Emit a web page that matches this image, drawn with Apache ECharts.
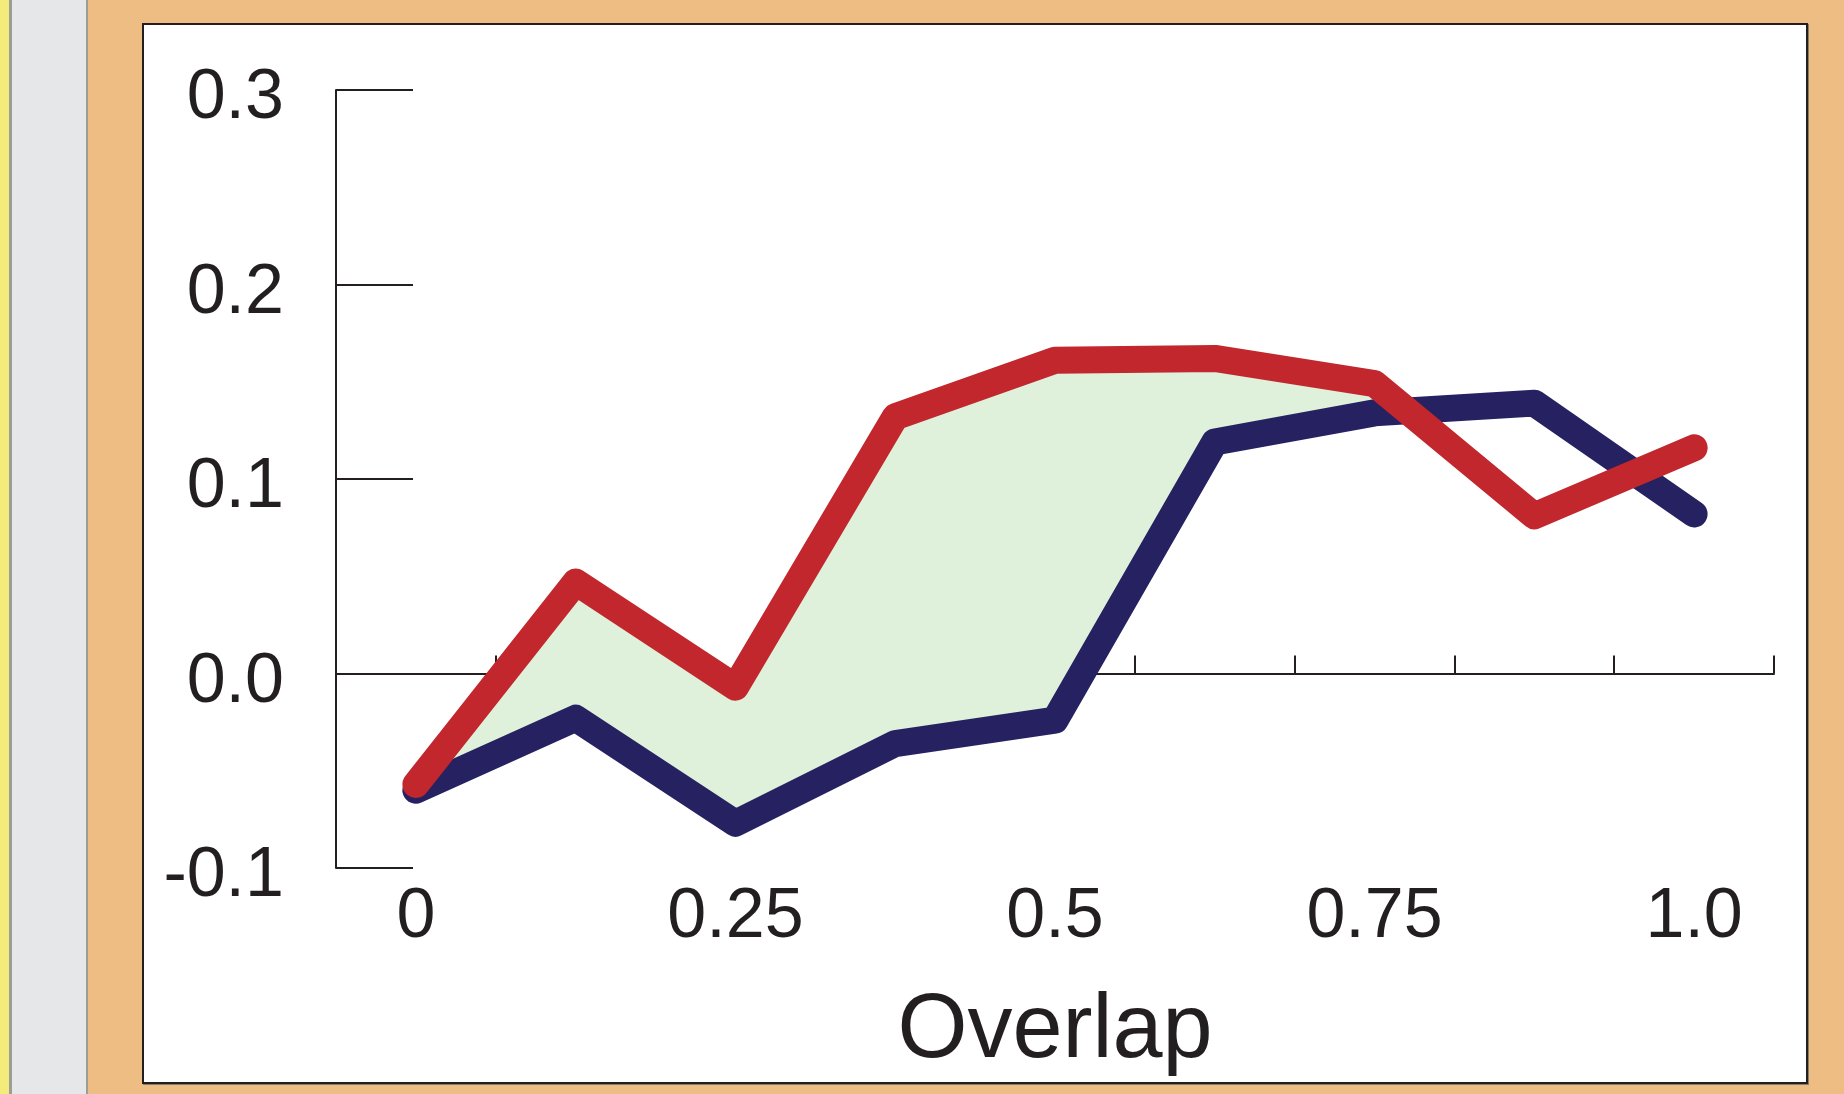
<!DOCTYPE html>
<html>
<head>
<meta charset="utf-8">
<script src="https://cdn.jsdelivr.net/npm/echarts@6/dist/echarts.min.js"></script>
<style>
  html, body { margin: 0; padding: 0; width: 1844px; height: 1094px; overflow: hidden; background: #EEBD83; }
  .strip { position: absolute; top: 0; height: 1094px; }
  #panel { position: absolute; left: 142px; top: 23px; width: 1666px; height: 1061px; box-sizing: border-box;
           background: #ffffff; border: 2px solid #231F20; box-shadow: 1px 1px 0 #8a7a66; }
  #chart { position: absolute; left: 0; top: 0; width: 1844px; height: 1094px; }
</style>
</head>
<body>
<div class="strip" style="left:0;width:9px;background:#F3EC7A;"></div>
<div class="strip" style="left:9px;width:3px;background:#9D9D97;"></div>
<div class="strip" style="left:12px;width:74px;background:#E6E7E8;"></div>
<div class="strip" style="left:86px;width:2px;background:#9D9D97;"></div>
<div id="panel"></div>
<div id="chart"></div>
<script>
// ---- data ----
const categories = ['0', '0.125', '0.25', '0.375', '0.5', '0.625', '0.75', '0.875', '1.0'];
const xValues = [0, 0.125, 0.25, 0.375, 0.5, 0.625, 0.75, 0.875, 1.0];
const navyValues = [-0.060, -0.023, -0.077, -0.036, -0.024, 0.119, 0.134, 0.139, 0.082];
const redValues = [-0.057, 0.047, -0.007, 0.132, 0.161, 0.162, 0.149, 0.081, 0.116];
const yTickLabels = ['-0.1', '0.0', '0.1', '0.2', '0.3'];
const xAxisTitle = 'Overlap';

const INK = '#231F20';
const FONT = '"Liberation Sans", Arial, Helvetica, sans-serif';

function pairs(vals) { return vals.map((v, i) => [xValues[i], v]); }

// Shaded band: where red lies above navy, from the start up to the first crossing
function fillPolygon() {
  const top = [], bottom = [];
  for (let i = 0; i < xValues.length; i++) {
    top.push([xValues[i], redValues[i]]);
    bottom.push([xValues[i], navyValues[i]]);
    if (i < xValues.length - 1) {
      const d = redValues[i] - navyValues[i];
      const d1 = redValues[i + 1] - navyValues[i + 1];
      if (d >= 0 && d1 < 0) {
        const t = d / (d - d1);
        const xc = xValues[i] + t * (xValues[i + 1] - xValues[i]);
        const yc = navyValues[i] + t * (navyValues[i + 1] - navyValues[i]);
        top.push([xc, yc]);
        bottom.push([xc, yc]);
        break;
      }
    }
  }
  return top.concat(bottom.reverse());
}

const chart = echarts.init(document.getElementById('chart'), null, { renderer: 'canvas' });
chart.setOption({
  animation: false,
  backgroundColor: 'transparent',
  grid: { left: 336, right: 70, top: 90, bottom: 226, containLabel: false },
  xAxis: [
    {
      type: 'value', min: -0.0625, max: 1.0625, interval: 0.125,
      axisLine: { show: true, onZero: true, lineStyle: { color: INK, width: 2 } },
      axisTick: { show: true, inside: true, length: 18, lineStyle: { color: INK, width: 2 } },
      axisLabel: { show: false },
      splitLine: { show: false }
    },
    {
      type: 'category', data: categories, boundaryGap: true, position: 'bottom',
      axisLine: { show: false, onZero: false },
      axisTick: { show: false },
      axisLabel: { show: true, interval: 1, fontSize: 70, color: INK, fontFamily: FONT, margin: 15 },
      splitLine: { show: false },
      name: xAxisTitle, nameLocation: 'middle', nameGap: 119,
      nameTextStyle: { fontSize: 90, color: INK, fontFamily: FONT }
    }
  ],
  yAxis: {
    type: 'value', min: -0.1, max: 0.3, interval: 0.1,
    axisLine: { show: true, onZero: false, lineStyle: { color: INK, width: 2 } },
    axisTick: { show: true, inside: true, length: 77, lineStyle: { color: INK, width: 2 } },
    axisLabel: {
      fontSize: 70, color: INK, fontFamily: FONT, margin: 52,
      verticalAlign: 'top', lineHeight: 18,
      formatter: function (v) { return yTickLabels[Math.round((v + 0.1) / 0.1)]; }
    },
    splitLine: { show: false }
  },
  series: [
    {
      type: 'custom', xAxisIndex: 0, yAxisIndex: 0, z: 1, silent: true,
      data: [[0, 0]],
      renderItem: function (params, api) {
        const pts = fillPolygon().map(p => api.coord(p));
        return { type: 'polygon', shape: { points: pts }, style: { fill: '#DFF1DA' } };
      }
    },
    {
      type: 'line', xAxisIndex: 0, yAxisIndex: 0, z: 3,
      data: pairs(navyValues), symbol: 'none', showSymbol: false,
      lineStyle: { color: '#262262', width: 27, cap: 'round', join: 'round' }
    },
    {
      type: 'line', xAxisIndex: 0, yAxisIndex: 0, z: 4,
      data: pairs(redValues), symbol: 'none', showSymbol: false,
      lineStyle: { color: '#C1272D', width: 27, cap: 'round', join: 'round' }
    }
  ]
});
</script>
</body>
</html>
